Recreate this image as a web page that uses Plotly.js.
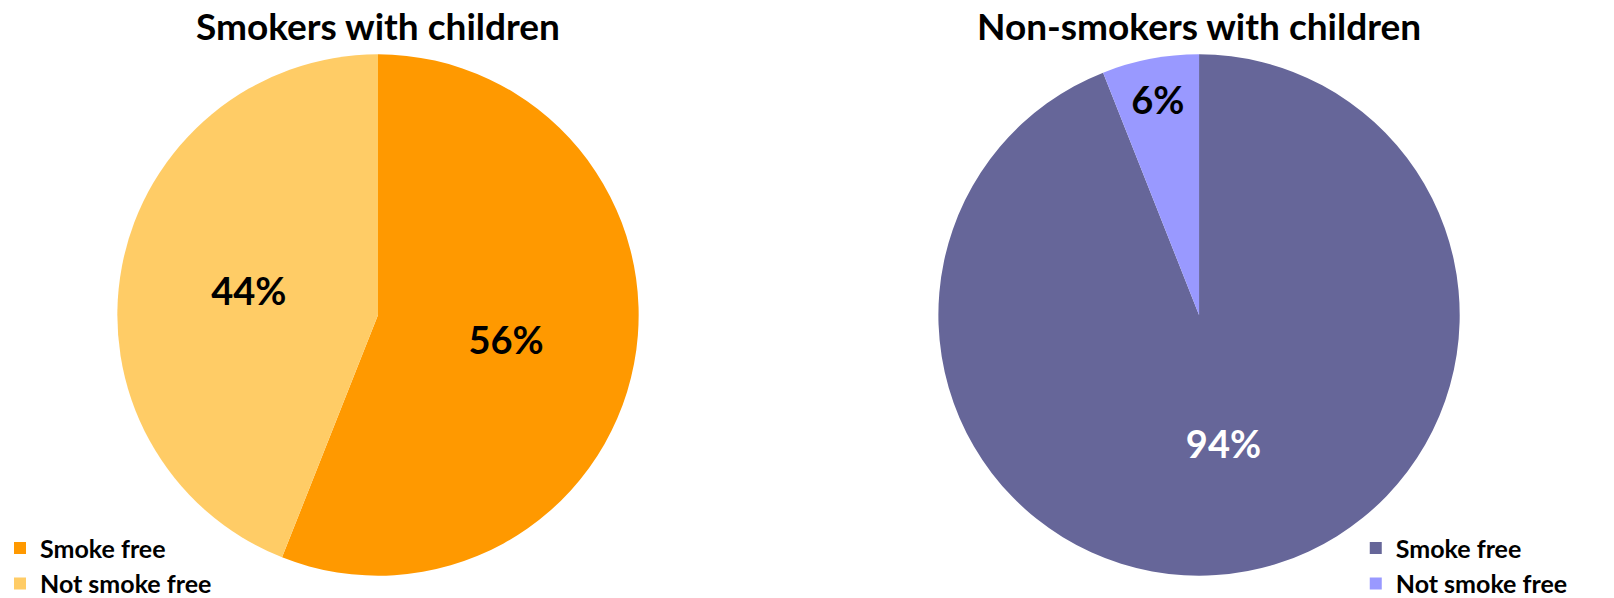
<!DOCTYPE html>
<html>
<head>
<meta charset="utf-8">
<script src="https://cdn.plot.ly/plotly-3.0.1.min.js"></script>
<style>html,body{margin:0;padding:0;background:#fff;}#chart{width:1614px;height:598px;}</style>
</head>
<body>
<div id="chart"></div>
<script>
const categories = ["Smoke free", "Not smoke free"];
const smokersValues = [56, 44];
const nonSmokersValues = [94, 6];
const chartTitles = ["Smokers with children", "Non-smokers with children"];
const smokersColors = ["#FF9900", "#FFCC66"];
const nonSmokersColors = ["#666699", "#9999FF"];

const FONT = "Lato, 'Open Sans', sans-serif";
// pie legend items are merged by label across traces; a zero-width space keeps
// the second chart's legend entries distinct while showing the same text
const categoriesRight = categories.map(c => c + "\u200B");

const traces = [
  {
    type: "pie",
    labels: categories,
    values: smokersValues,
    sort: false,
    direction: "clockwise",
    rotation: 0,
    marker: { colors: smokersColors, line: { width: 0 } },
    textinfo: "percent",
    textposition: "inside",
    insidetextorientation: "horizontal",
    textfont: { family: FONT, size: 38, weight: "bold", color: ["#000000", "#000000"] },
    domain: { x: [0.0727, 0.3957], y: [0.0373, 0.9092] },
    legend: "legend",
    hoverinfo: "label+percent"
  },
  {
    type: "pie",
    labels: categoriesRight,
    values: nonSmokersValues,
    sort: false,
    direction: "clockwise",
    rotation: 0,
    marker: { colors: nonSmokersColors, line: { width: 0 } },
    textinfo: "percent",
    textposition: "inside",
    insidetextorientation: "horizontal",
    textfont: { family: FONT, size: 38, weight: "bold", color: ["#FFFFFF", "#000000"] },
    domain: { x: [0.5814, 0.9044], y: [0.0373, 0.9092] },
    legend: "legend2",
    hoverinfo: "label+percent"
  }
];

const legendCommon = {
  font: { family: FONT, size: 25, weight: "bold", color: "#000" },
  bgcolor: "rgba(0,0,0,0)",
  orientation: "v",
  yanchor: "bottom",
  xanchor: "left",
  traceorder: "normal",
  itemsizing: "constant",
  tracegroupgap: 0
};

const layout = {
  width: 1614,
  height: 598,
  margin: { l: 0, r: 0, t: 0, b: 0, autoexpand: false },
  paper_bgcolor: "#ffffff",
  showlegend: true,
  legend: Object.assign({}, legendCommon, { x: 0.0, y: -0.014 }),
  legend2: Object.assign({}, legendCommon, { x: 0.840, y: -0.014 }),
  annotations: [
    { text: chartTitles[0], x: 0.2342, y: 0.958, xref: "paper", yref: "paper",
      xanchor: "center", yanchor: "middle", showarrow: false,
      font: { family: FONT, size: 37, weight: "bold", color: "#000" } },
    { text: chartTitles[1], x: 0.7429, y: 0.958, xref: "paper", yref: "paper",
      xanchor: "center", yanchor: "middle", showarrow: false,
      font: { family: FONT, size: 37, weight: "bold", color: "#000" } }
  ]
};

Plotly.newPlot("chart", traces, layout, { displayModeBar: false, staticPlot: true });
</script>
</body>
</html>
